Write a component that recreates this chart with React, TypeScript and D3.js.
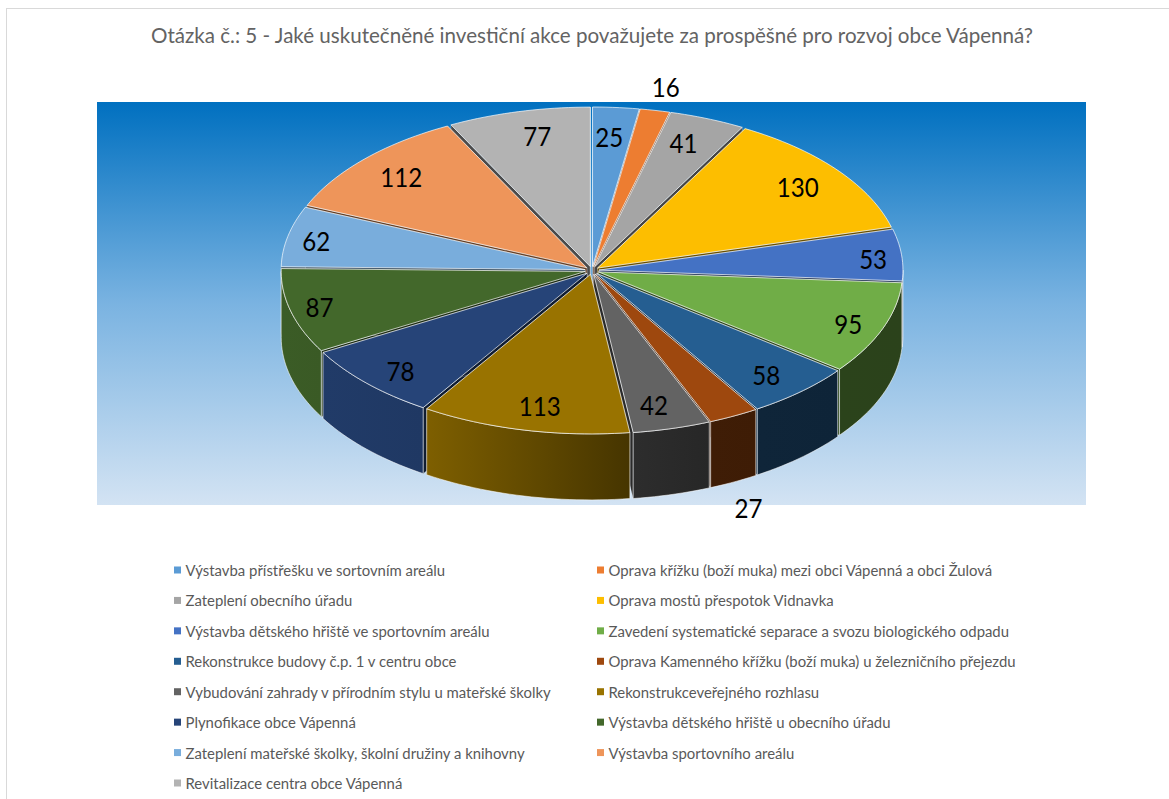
import React from "react";
import * as d3 from "d3";

const titleText = "Otázka č.: 5 - Jaké uskutečněné investiční akce považujete za prospěšné pro rozvoj obce Vápenná?";
const categories = [
  "Výstavba přístřešku ve sortovním areálu",
  "Oprava křížku (boží muka) mezi obci Vápenná a obci Žulová",
  "Zateplení obecního úřadu",
  "Oprava mostů přespotok Vidnavka",
  "Výstavba dětského hřiště ve sportovním areálu",
  "Zavedení systematické separace a svozu biologického odpadu",
  "Rekonstrukce budovy č.p. 1 v centru obce",
  "Oprava Kamenného křížku (boží muka) u železničního přejezdu",
  "Vybudování zahrady v přírodním stylu u mateřské školky",
  "Rekonstrukceveřejného rozhlasu",
  "Plynofikace obce Vápenná",
  "Výstavba dětského hřiště u obecního úřadu",
  "Zateplení mateřské školky, školní družiny a knihovny",
  "Výstavba sportovního areálu",
  "Revitalizace centra obce Vápenná",
];
const values = [25, 16, 41, 130, 53, 95, 58, 27, 42, 113, 78, 87, 62, 112, 77];
const colors = [
  "#5b9bd5", "#ed7d31", "#a5a5a5", "#fdbe00", "#4472c4", "#70ad47", "#255e91", "#9e480e",
  "#636363", "#997300", "#264478", "#43682b", "#79addc", "#ee955a", "#b3b3b3",
];
// label placement, relative to the default inside-end anchor
const labelRadius = [0.82, 1.15, 0.82, 0.82, 0.82, 0.82, 0.82, 1.13, 0.82, 0.82, 0.82, 0.82, 0.82, 0.82, 0.82];
const labelNudgeX = [-2, 3, -1, 9, 33, 23, 7, 0, -2, 2, -11, -31, -32, -8, 4];
const labelNudgeY = [-3, -4, -6, -3, 1, 7, 8, 11, 8, 8, 10, 4, -2, -5, -7];

const W = 1169;
const H = 799;
const cx = 592;
const cy = 270.5;
const rx = 304;
const ry = 159.5;
const explodeX = 7;
const explodeY = 4;
const depth = 66;
const HALF = Math.PI / 2;

// wall shading as a function of horizontal position across the pie
const shade = d3.scaleLinear().domain([-1, -0.5, -0.4, -0.05, 0.1, 0.25, 1]).range([0.88, 0.82, 0.74, 0.55, 0.47, 0.4, 0.38]);
const darker = (c: string, f: number) => {
  const k = d3.rgb(c);
  return d3.rgb(k.r * f, k.g * f, k.b * f).formatHex();
};

const pieGen = d3.pie<number>().sort(null).value((d) => d).startAngle(0).endAngle(2 * Math.PI);
const arcs = pieGen(values);

type Pt = [number, number];
const lineGen = d3.line<Pt>().x((d) => d[0]).y((d) => d[1]);

const sliceGeom = arcs.map((a, i) => {
  const mid = (a.startAngle + a.endAngle) / 2;
  const ox = cx + explodeX * Math.sin(mid);
  const oy = cy - explodeY * Math.cos(mid);
  const at = (t: number, dz = 0): Pt => [ox + rx * Math.sin(t), oy - ry * Math.cos(t) + dz];
  const n = Math.max(2, Math.ceil((a.endAngle - a.startAngle) * 40));
  const rim = d3.range(n + 1).map((k) => at(a.startAngle + ((a.endAngle - a.startAngle) * k) / n));
  const top = lineGen([[ox, oy], ...rim])! + "Z";
  const face = (t: number) => lineGen([[ox, oy], at(t), at(t, depth), [ox, oy + depth]])! + "Z";
  const w0 = Math.max(a.startAngle, HALF);
  const w1 = Math.min(a.endAngle, 3 * HALF);
  let wall: string | null = null;
  let wx0 = 0;
  let wx1 = 0;
  if (w1 > w0) {
    const m = Math.max(2, Math.ceil((w1 - w0) * 40));
    const upper = d3.range(m + 1).map((k) => at(w0 + ((w1 - w0) * k) / m));
    const lower = upper.map((p) => [p[0], p[1] + depth] as Pt).reverse();
    wall = lineGen([...upper, ...lower])! + "Z";
    wx0 = at(w0)[0];
    wx1 = at(w1)[0];
  }
  const lr = labelRadius[i];
  const lx = cx + rx * lr * Math.sin(mid) + labelNudgeX[i];
  const outsideBelow = lr > 1 && Math.cos(mid) < 0;
  const ly = cy - ry * lr * Math.cos(mid) + labelNudgeY[i] + (outsideBelow ? depth : 0);
  return { i, mid, top, wall, wx0, wx1, faceA: face(a.startAngle), faceB: face(a.endAngle), lx, ly };
});
const drawOrder = [...sliceGeom].sort((p, q) => Math.cos(q.mid) - Math.cos(p.mid));

const legendRows = d3.range(8);
const legendY = d3.scaleLinear().domain([0, 7]).range([570, 783]);
const legendX = [174, 597];

const FONT = "Lato, 'Open Sans', sans-serif";

export default function App() {
  return (
    <svg
      width={W}
      height={H}
      viewBox={`0 0 ${W} ${H}`}
      style={{ position: "absolute", left: 0, top: 0, display: "block", background: "#fff" }}
    >
      <defs>
        <linearGradient id="plotBg" x1="0" y1="0" x2="0" y2="1">
          <stop offset="0" stopColor="#0070c0" />
          <stop offset="0.5" stopColor="#7ab3e1" />
          <stop offset="1" stopColor="#d3e3f3" />
        </linearGradient>
        {sliceGeom.filter((s) => s.wall).map((s) => {
          const nx = (x: number) => (x - cx) / rx;
          return (
            <linearGradient key={s.i} id={`wall${s.i}`} gradientUnits="userSpaceOnUse" x1={s.wx0} y1={0} x2={s.wx1} y2={0}>
              <stop offset="0" stopColor={darker(colors[s.i], shade(nx(s.wx0)))} />
              <stop offset="1" stopColor={darker(colors[s.i], shade(nx(s.wx1)))} />
            </linearGradient>
          );
        })}
      </defs>
      <rect x={6.5} y={8.5} width={1170} height={800} fill="#fff" stroke="#d9d9d9" strokeWidth={1} />
      <text x={592} y={43} textAnchor="middle" fontFamily={FONT} fontSize={20.5} fill="#636363" textLength={882} lengthAdjust="spacingAndGlyphs">
        {titleText}
      </text>
      <rect x={97} y={102} width={989} height={403} fill="url(#plotBg)" />
      {drawOrder.map((s) => (
        <g key={s.i} strokeLinejoin="round">
          <path d={s.faceA} fill={darker(colors[s.i], 0.42)} stroke="#fff" strokeOpacity={0.35} strokeWidth={0.7} />
          <path d={s.faceB} fill={darker(colors[s.i], 0.42)} stroke="#fff" strokeOpacity={0.35} strokeWidth={0.7} />
          {s.wall && <path d={s.wall} fill={`url(#wall${s.i})`} stroke="#fff" strokeOpacity={0.7} strokeWidth={0.8} />}
          <path d={s.top} fill={colors[s.i]} stroke="#fff" strokeOpacity={0.75} strokeWidth={0.9} />
        </g>
      ))}
      {sliceGeom.map((s) => (
        <text
          key={s.i}
          x={s.lx}
          y={s.ly}
          textAnchor="middle"
          dominantBaseline="central"
          fontFamily={FONT}
          fontSize={26.5}
          fill="#000"
          textLength={String(values[s.i]).length * 14}
          lengthAdjust="spacingAndGlyphs"
        >
          {values[s.i]}
        </text>
      ))}
      {legendRows.map((r) =>
        legendX.map((x, c) => {
          const idx = r * 2 + c;
          if (idx >= categories.length) return null;
          const y = legendY(r);
          return (
            <g key={idx}>
              <rect x={x} y={y - 3.5} width={7} height={7} fill={colors[idx]} />
              <text x={x + 11.5} y={y} dominantBaseline="central" fontFamily={FONT} fontSize={14.9} fill="#595959">
                {categories[idx]}
              </text>
            </g>
          );
        })
      )}
    </svg>
  );
}
